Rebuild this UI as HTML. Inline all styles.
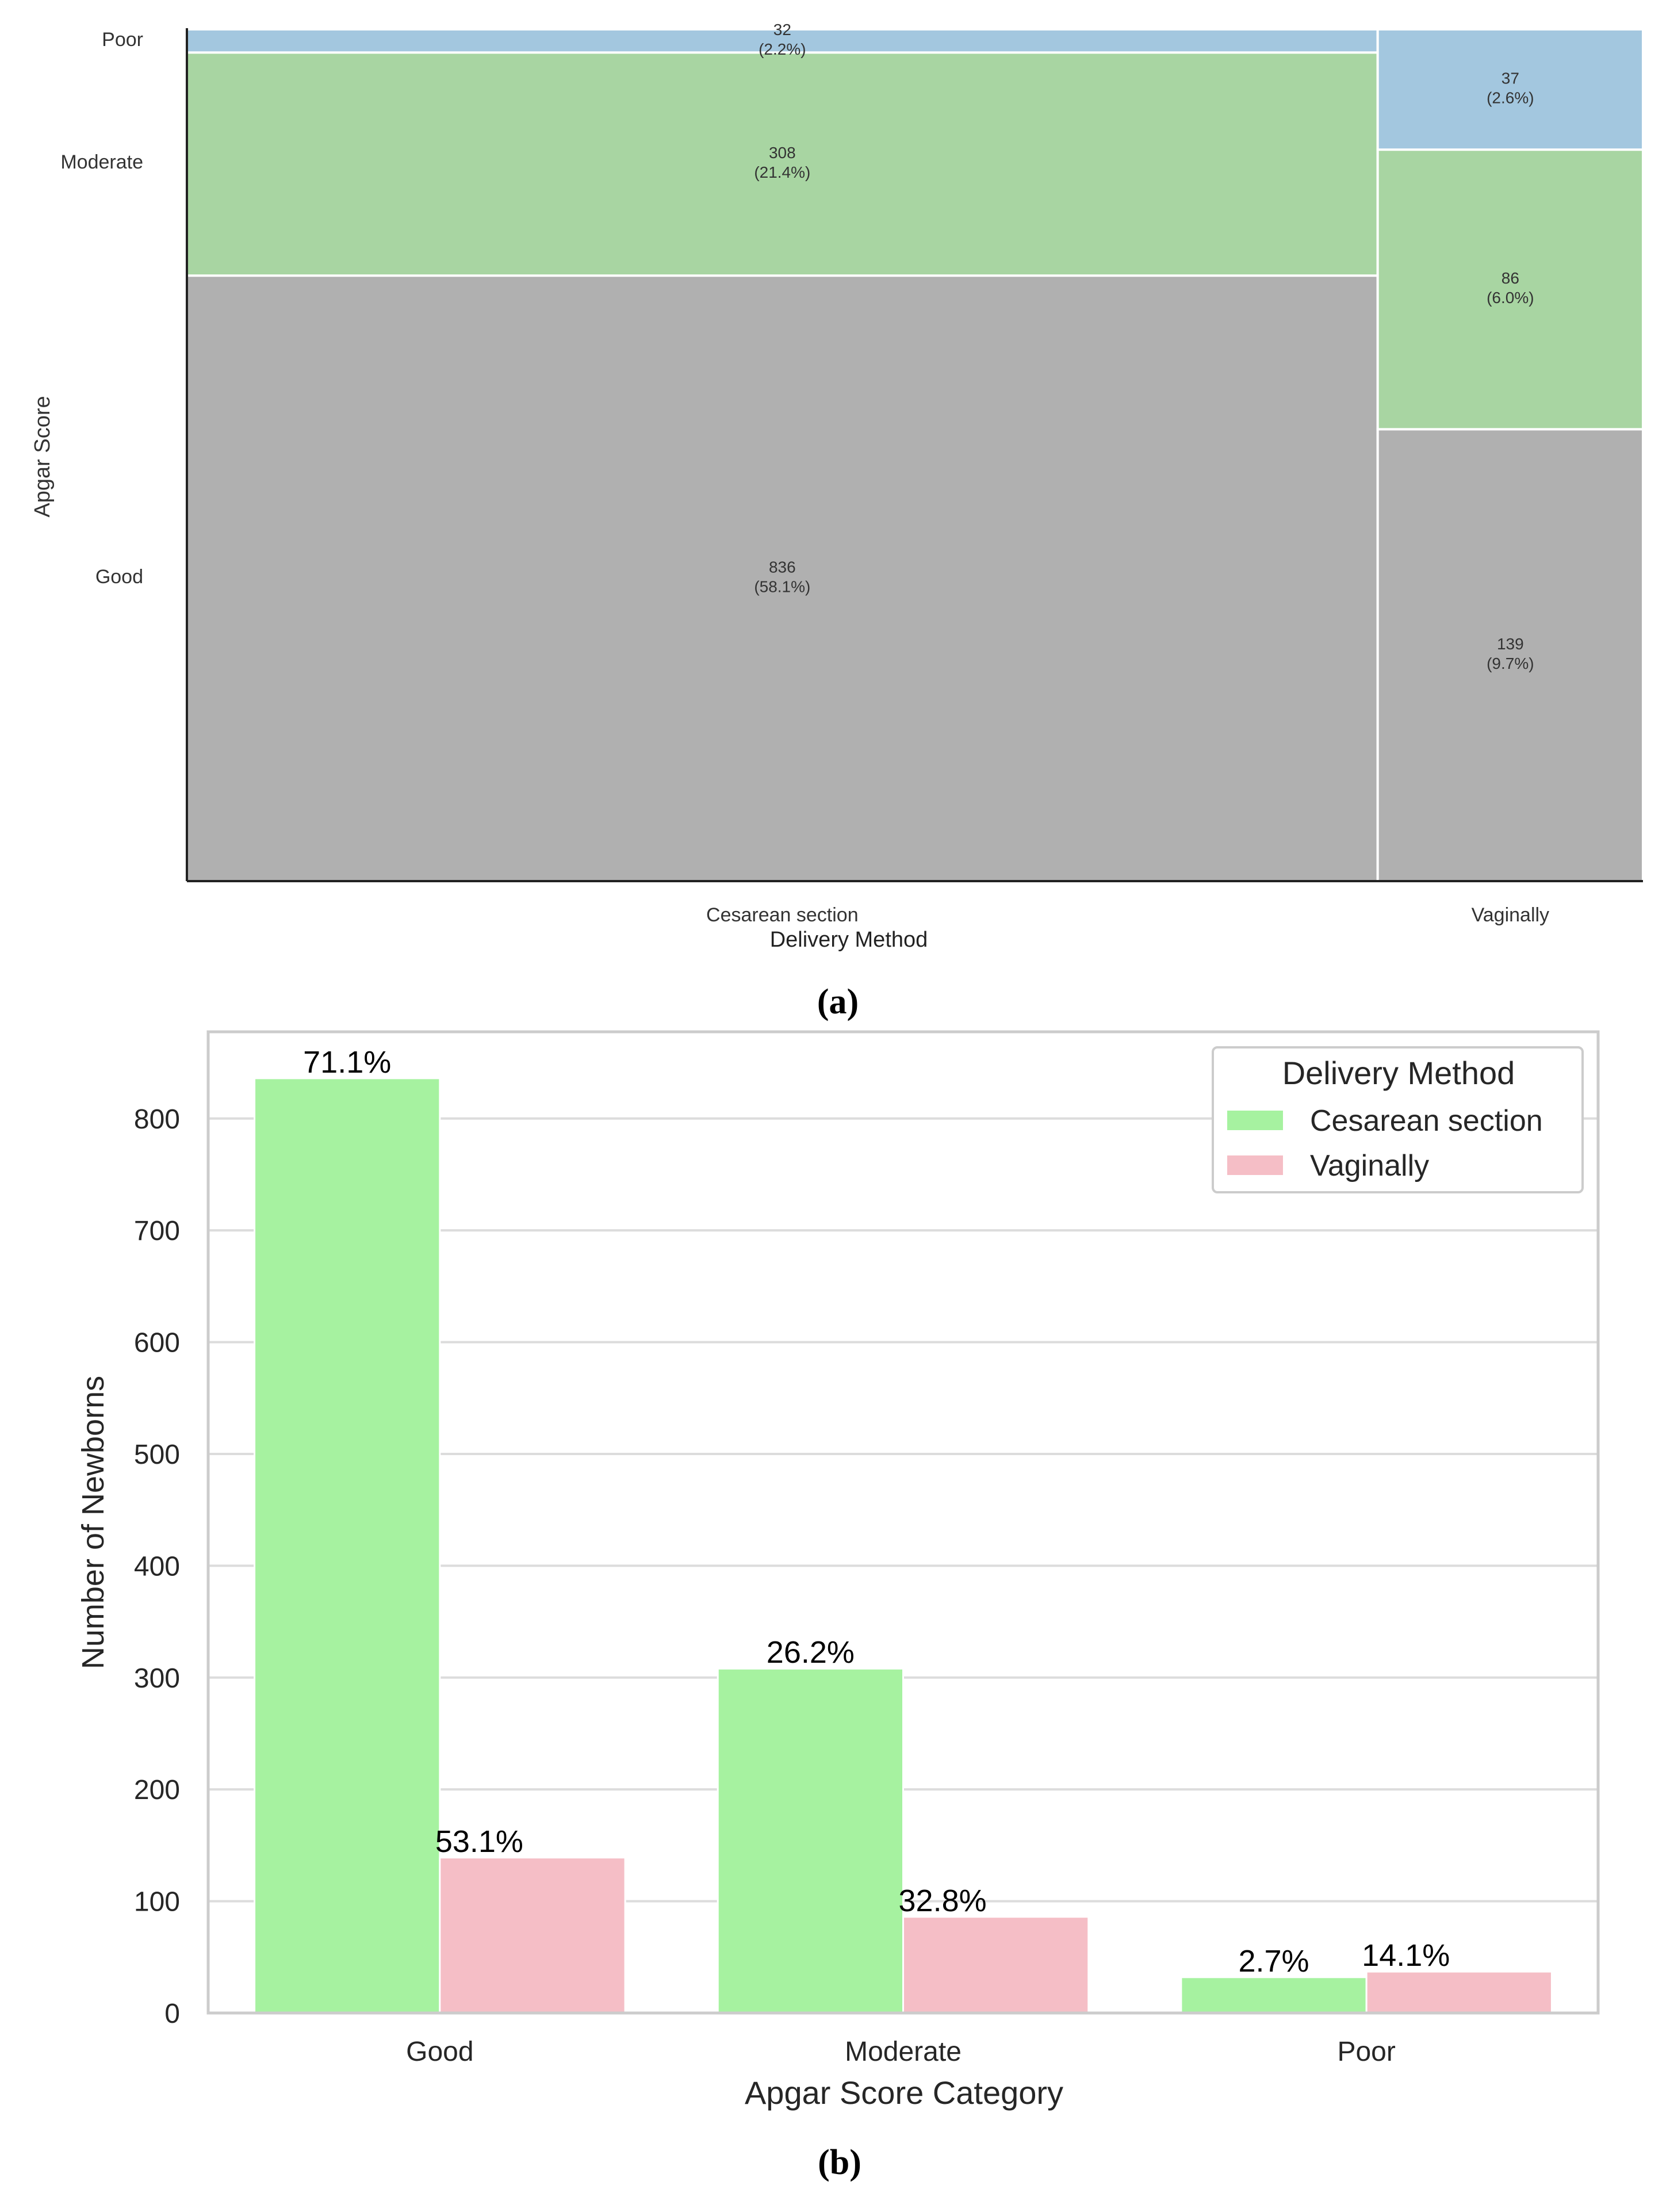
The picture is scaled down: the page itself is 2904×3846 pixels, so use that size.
<!DOCTYPE html>
<html><head><meta charset="utf-8"><style>
html,body{margin:0;padding:0;background:#fff;}
svg{display:block;font-family:"Liberation Sans","DejaVu Sans",sans-serif;}
</style></head><body>
<svg id="s" width="2904" height="3846" viewBox="0 0 2904 3846"></svg>
<script>
// ---- Mosaic data (a)
const methods = ["Cesarean section", "Vaginally"];
const scoreCats = ["Good", "Moderate", "Poor"];
const cesareanCounts = [836, 308, 32];
const vaginalCounts = [139, 86, 37];
const cesareanPct = ["58.1%", "21.4%", "2.2%"];
const vaginalPct = ["9.7%", "6.0%", "2.6%"];
// ---- Bar data (b)
const barCats = ["Good", "Moderate", "Poor"];
const barCes = [836, 308, 32];
const barVag = [139, 86, 37];
const barCesLbl = ["71.1%", "26.2%", "2.7%"];
const barVagLbl = ["53.1%", "32.8%", "14.1%"];
const yTicks = [0, 100, 200, 300, 400, 500, 600, 700, 800];

const NS = "http://www.w3.org/2000/svg";
const svg = document.getElementById("s");
function mk(tag, attrs, parent) {
  const e = document.createElementNS(NS, tag);
  for (const k in attrs) e.setAttribute(k, attrs[k]);
  (parent || svg).appendChild(e);
  return e;
}
function txt(str, attrs, parent) { const e = mk("text", attrs, parent); e.textContent = str; return e; }

// ===== (a) mosaic =====
const aL = 325, aR = 2857, aT = 51, aB = 1532;
const cols = [cesareanCounts, vaginalCounts];
const pcts = [cesareanPct, vaginalPct];
const colors = ["#b0b0b0", "#a8d5a2", "#a3c7df"];
const grand = cesareanCounts.concat(vaginalCounts).reduce((a, b) => a + b, 0);
let x0 = aL;
cols.forEach((counts, ci) => {
  const tot = counts.reduce((a, b) => a + b, 0);
  const w = (aR - aL) * tot / grand;
  let yb = aB;
  counts.forEach((c, si) => {
    const h = (aB - aT) * c / tot;
    const r = mk("rect", {x: x0, y: yb - h, width: w, height: h, fill: colors[si], stroke: "#fff", "stroke-width": 4});
    
    
    const cy = yb - h / 2;
    const t = txt(c, {x: x0 + w / 2, y: cy - 10, "text-anchor": "middle", "font-size": 28, fill: "#333"});
    
    
    const t2 = txt("(" + pcts[ci][si] + ")", {x: x0 + w / 2, y: cy + 24, "text-anchor": "middle", "font-size": 28, fill: "#333"});
    
    
    yb -= h;
  });
  const xl = txt(methods[ci], {x: x0 + w / 2, y: 1602, "text-anchor": "middle", "font-size": 34, fill: "#333"});
  
  
  x0 += w;
});
mk("line", {x1: aL, y1: aT - 2, x2: aL, y2: aB, stroke: "#222", "stroke-width": 4,  });
mk("line", {x1: aL, y1: aB, x2: aR, y2: aB, stroke: "#222", "stroke-width": 4,  });
[["Poor", 80], ["Moderate", 293], ["Good", 1014]].forEach(p => {
  txt(p[0], {x: 249, y: p[1], "text-anchor": "end", "font-size": 34, fill: "#333",  });
});
txt("Apgar Score", {x: 0, y: 0, transform: "translate(86,794) rotate(-90)", "text-anchor": "middle", "font-size": 38, fill: "#333",  });
txt("Delivery Method", {x: 1476, y: 1646, "text-anchor": "middle", "font-size": 38, fill: "#222",  });
txt("(a)", {x: 1457, y: 1762, "text-anchor": "middle", "font-size": 62, "font-weight": "bold", "font-family": "Liberation Serif, serif", fill: "#000",  });

// ===== (b) bar chart =====
const bL = 362, bR = 2779, bT = 1794, bB = 3500;
const yMin = 0, yMax = (bB - bT) / 194.4 * 100;
const yS = v => bB - (v - yMin) / (yMax - yMin) * (bB - bT);
const step = (bR - bL) / barCats.length;
const xC = i => bL + step * (i + 0.5);
const bw = step * 0.4;
yTicks.forEach(v => {
  mk("line", {x1: bL, x2: bR, y1: yS(v), y2: yS(v), stroke: "#dcdcdc", "stroke-width": 4,  });
  txt(v, {x: 313, y: yS(v) + 17, "text-anchor": "end", "font-size": 48, fill: "#262626",  });
});
barCats.forEach((c, i) => {
  const hc = yS(0) - yS(barCes[i]);
  const r1 = mk("rect", {x: xC(i) - bw, y: yS(barCes[i]), width: bw, height: hc, fill: "#a6f2a0", stroke: "#fff", "stroke-width": 3});
  
  
  const hv = yS(0) - yS(barVag[i]);
  const r2 = mk("rect", {x: xC(i), y: yS(barVag[i]), width: bw, height: hv, fill: "#f5bec6", stroke: "#fff", "stroke-width": 3});
  
  
  const l1 = txt(barCesLbl[i], {x: xC(i) - bw / 2, y: yS(barCes[i]) - 10, "text-anchor": "middle", "font-size": 54, fill: "#000"});
  
  
  const l2 = txt(barVagLbl[i], {x: xC(i) - 8, y: yS(barVag[i]) - 10, "text-anchor": "start", "font-size": 54, fill: "#000"});
  
  
  const xt = txt(c, {x: xC(i), y: 3583, "text-anchor": "middle", "font-size": 48, fill: "#262626"});
  
  
});
mk("rect", {x: bL, y: bT, width: bR - bL, height: bB - bT, fill: "none", stroke: "#cccccc", "stroke-width": 5,  });
txt("Number of Newborns", {x: 0, y: 0, transform: "translate(180,2647) rotate(-90)", "text-anchor": "middle", "font-size": 54, fill: "#262626",  });
txt("Apgar Score Category", {x: 1572, y: 3658, "text-anchor": "middle", "font-size": 56, fill: "#262626",  });
txt("(b)", {x: 1460, y: 3780, "text-anchor": "middle", "font-size": 62, "font-weight": "bold", "font-family": "Liberation Serif, serif", fill: "#000",  });
// legend
const lg = mk("g", { });
mk("rect", {x: 2109, y: 1821, width: 643, height: 252, rx: 8, fill: "#fff", stroke: "#cccccc", "stroke-width": 4}, lg);
txt("Delivery Method", {x: 2432, y: 1885, "text-anchor": "middle", "font-size": 56, fill: "#262626",  }, lg);
mk("rect", {x: 2134, y: 1931, width: 97, height: 34, fill: "#a6f2a0",  }, lg);
txt("Cesarean section", {x: 2278, y: 1966, "font-size": 52, fill: "#262626",  }, lg);
mk("rect", {x: 2134, y: 2009, width: 97, height: 34, fill: "#f5bec6",  }, lg);
txt("Vaginally", {x: 2278, y: 2044, "font-size": 52, fill: "#262626",  }, lg);
</script>
</body></html>
